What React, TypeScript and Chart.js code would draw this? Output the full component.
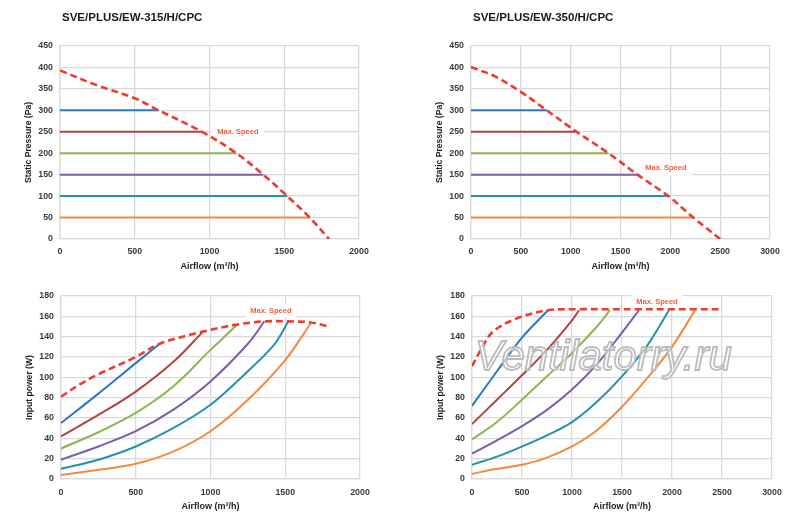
import { useEffect, useRef } from "react";
import { Chart, registerables } from "chart.js";

Chart.register(...registerables);

const FONT = '"Liberation Sans", Arial, sans-serif';

// static pressure of the six speed settings (Pa), top to bottom
const pressureLevels = [300, 250, 200, 150, 100, 50];
const speedColors = ["#2b78c2", "#b2443e", "#8db552", "#7b5ea7", "#2592ab", "#f58a3e"];
const maxColor = "#ee3b30";

// SVE/PLUS/EW-315/H/CPC
const levelEnd315 = [660, 950, 1180, 1360, 1520, 1670];
const maxFlow315 = [0, 250, 500, 660, 950, 1180, 1360, 1520, 1670, 1800];
const maxPressure315 = [393, 358, 328, 300, 250, 200, 150, 100, 50, 0];
const powerFlow315 = [
    [0, 250, 500, 660],
    [0, 250, 500, 750, 950],
    [0, 250, 500, 750, 1000, 1180],
    [0, 250, 500, 750, 1000, 1250, 1360],
    [0, 250, 500, 750, 1000, 1250, 1430, 1520],
    [0, 250, 500, 750, 1000, 1250, 1500, 1670],
];
const powerWatts315 = [
    [55, 84, 114, 133],
    [42, 63, 86, 115, 145],
    [30, 46, 65, 91, 127, 152],
    [19, 32, 47, 68, 96, 133, 155],
    [10, 19, 32, 50, 73, 106, 133, 155],
    [4, 9, 15, 27, 47, 78, 117, 153],
];
const maxPowerFlow315 = [0, 125, 250, 500, 660, 950, 1180, 1360, 1520, 1670, 1790];
const maxPowerWatts315 = [81, 93, 103, 120, 133, 145, 152, 155, 155, 154, 150];

// SVE/PLUS/EW-350/H/CPC
const levelEnd350 = [760, 1060, 1380, 1670, 1980, 2230];
const maxFlow350 = [0, 250, 500, 760, 1060, 1380, 1670, 1980, 2230, 2500];
const maxPressure350 = [401, 378, 343, 300, 250, 200, 150, 100, 50, 0];
const powerFlow350 = [
    [0, 250, 500, 760],
    [0, 250, 500, 750, 1000, 1070],
    [0, 250, 500, 750, 1000, 1250, 1380],
    [0, 250, 500, 750, 1000, 1250, 1500, 1670],
    [0, 250, 500, 750, 1000, 1250, 1500, 1750, 1970],
    [0, 250, 500, 750, 1000, 1250, 1500, 1750, 2000, 2230],
];
const powerWatts350 = [
    [72, 106, 139, 166],
    [54, 78, 102, 127, 156, 166],
    [39, 56, 78, 101, 124, 150, 166],
    [25, 38, 52, 68, 88, 113, 144, 166],
    [14, 22, 32, 43, 56, 76, 101, 131, 166],
    [5, 10, 14, 21, 32, 48, 71, 99, 130, 166],
];
const maxPowerFlow350 = [0, 100, 210, 450, 760, 1070, 1380, 1670, 1970, 2230, 2500];
const maxPowerWatts350 = [111, 129, 145, 158, 166, 167, 167, 167, 167, 167, 167];

type Series = { xs: number[]; ys: number[]; color: string; dashed?: boolean };

type Frame = {
    left: number;
    top: number;
    width: number;
    height: number;
    axisWidth: number;
    axisHeight: number;
    padTop: number;
    padRight: number;
    yTitlePad: number;
    xTitlePad: number;
    xTickPad: number;
};

type FanChartProps = {
    frame: Frame;
    title?: string;
    yTitle: string;
    xMax: number;
    yMax: number;
    yStep: number;
    series: Series[];
    label: { x: number; y: number };
    watermark?: boolean;
};

const pressureSeries = (ends: number[], maxX: number[], maxY: number[]): Series[] => [
    { xs: maxX, ys: maxY, color: maxColor, dashed: true },
    ...ends.map((end, i) => ({
        xs: [0, end],
        ys: [pressureLevels[i], pressureLevels[i]],
        color: speedColors[i],
    })),
];

const powerSeries = (xs: number[][], ys: number[][], maxX: number[], maxY: number[]): Series[] => [
    { xs: maxX, ys: maxY, color: maxColor, dashed: true },
    ...xs.map((flow, i) => ({ xs: flow, ys: ys[i], color: speedColors[i] })),
];

const FanChart = ({ frame, title, yTitle, xMax, yMax, yStep, series, label, watermark }: FanChartProps) => {
    const canvasRef = useRef<HTMLCanvasElement | null>(null);

    useEffect(() => {
        if (!canvasRef.current) return;

        const datasets = series.map((s) => ({
            data: s.xs.map((x, i) => ({ x, y: s.ys[i] })),
            borderColor: s.color,
            borderWidth: s.dashed ? 2.6 : 2,
            borderDash: s.dashed ? [7, 4] : [],
            pointRadius: 0,
            fill: false,
            tension: 0.35,
        }));

        // chart heading above the plot
        const headerPlugin = {
            id: "headerPlugin",
            afterDraw(chart: any) {
                if (!title) return;
                const { ctx, chartArea } = chart;
                ctx.save();
                ctx.font = `bold 11.5px ${FONT}`;
                ctx.fillStyle = "#1a1a1a";
                ctx.textBaseline = "middle";
                ctx.fillText(title, chartArea.left + 2, 18);
                ctx.restore();
            },
        };

        // "Max. Speed" tag on a white box
        const speedLabelPlugin = {
            id: "speedLabelPlugin",
            beforeDatasetsDraw(chart: any) {
                const { ctx, scales } = chart;
                const px = scales.x.getPixelForValue(label.x);
                const py = scales.y.getPixelForValue(label.y);
                ctx.save();
                ctx.font = `bold 7.5px ${FONT}`;
                const w = ctx.measureText("Max. Speed").width + 10;
                ctx.fillStyle = "#ffffff";
                ctx.fillRect(px - w / 2, py - 7, w, 14);
                ctx.fillStyle = "#f0603f";
                ctx.textAlign = "center";
                ctx.textBaseline = "middle";
                ctx.fillText("Max. Speed", px, py);
                ctx.restore();
            },
        };

        const watermarkPlugin = {
            id: "watermarkPlugin",
            afterDatasetsDraw(chart: any) {
                if (!watermark) return;
                const { ctx } = chart;
                ctx.save();
                ctx.font = `italic 42px ${FONT}`;
                ctx.fillStyle = "rgba(255,255,255,0.55)";
                ctx.strokeStyle = "#bcbcbc";
                ctx.lineWidth = 1.8;
                ctx.fillText("Ventilatorry.ru", 75, 90);
                ctx.strokeText("Ventilatorry.ru", 75, 90);
                ctx.restore();
            },
        };

        const gridColor = "#d9d9d9";
        const tickFont = { family: FONT, size: 8.8, weight: "bold" };

        const chart = new Chart(canvasRef.current, {
            type: "line",
            data: { datasets } as any,
            options: {
                animation: false,
                responsive: true,
                maintainAspectRatio: false,
                layout: { padding: { top: frame.padTop, right: frame.padRight, left: 0, bottom: 0 } },
                plugins: { legend: { display: false }, tooltip: { enabled: false } },
                scales: {
                    x: {
                        type: "linear",
                        min: 0,
                        max: xMax,
                        afterFit: (axis: any) => { axis.height = frame.axisHeight; },
                        ticks: {
                            stepSize: 500,
                            autoSkip: false,
                            maxRotation: 0,
                            padding: frame.xTickPad,
                            color: "#3a3a3a",
                            font: tickFont,
                            callback: (v: any) => String(v),
                        },
                        grid: { color: gridColor, lineWidth: 1.3, drawTicks: false },
                        border: { color: gridColor, width: 1.3 },
                        title: {
                            display: true,
                            text: "Airflow (m³/h)",
                            color: "#1f1f1f",
                            padding: { top: 0, bottom: frame.xTitlePad },
                            font: { family: FONT, size: 9, weight: "bold" },
                        },
                    },
                    y: {
                        type: "linear",
                        min: 0,
                        max: yMax,
                        afterFit: (axis: any) => { axis.width = frame.axisWidth; },
                        ticks: {
                            stepSize: yStep,
                            autoSkip: false,
                            padding: 7,
                            color: "#3a3a3a",
                            font: tickFont,
                            callback: (v: any) => String(v),
                        },
                        grid: { color: gridColor, lineWidth: 1.3, drawTicks: false },
                        border: { color: gridColor, width: 1.3 },
                        title: {
                            display: true,
                            text: yTitle,
                            color: "#1f1f1f",
                            padding: { top: frame.yTitlePad, bottom: 0 },
                            font: { family: FONT, size: 8.6, weight: "bold" },
                        },
                    },
                },
            } as any,
            plugins: [headerPlugin, speedLabelPlugin, watermarkPlugin],
        });

        return () => chart.destroy();
    }, [frame, title, yTitle, xMax, yMax, yStep, series, label, watermark]);

    return (
        <div
            style={{
                position: "absolute",
                left: frame.left,
                top: frame.top,
                width: frame.width,
                height: frame.height,
            }}
        >
            <canvas ref={canvasRef} />
        </div>
    );
};

const topLeft: Frame = { left: 0, top: 0, width: 400, height: 280, axisWidth: 60, axisHeight: 41, padTop: 46, padRight: 41, yTitlePad: 23.5, xTitlePad: 8, xTickPad: 7 };
const topRight: Frame = { left: 400, top: 0, width: 400, height: 280, axisWidth: 71, axisHeight: 41, padTop: 46, padRight: 30, yTitlePad: 34, xTitlePad: 8, xTickPad: 7 };
const bottomLeft: Frame = { left: 0, top: 280, width: 400, height: 244, axisWidth: 61, axisHeight: 45, padTop: 16, padRight: 40, yTitlePad: 24, xTitlePad: 12, xTickPad: 8 };
const bottomRight: Frame = { left: 400, top: 280, width: 400, height: 244, axisWidth: 72, axisHeight: 45, padTop: 16, padRight: 28, yTitlePad: 35.5, xTitlePad: 12, xTickPad: 8 };

const pressure315 = pressureSeries(levelEnd315, maxFlow315, maxPressure315);
const pressure350 = pressureSeries(levelEnd350, maxFlow350, maxPressure350);
const power315 = powerSeries(powerFlow315, powerWatts315, maxPowerFlow315, maxPowerWatts315);
const power350 = powerSeries(powerFlow350, powerWatts350, maxPowerFlow350, maxPowerWatts350);

const label315P = { x: 1190, y: 250 };
const label350P = { x: 1955, y: 165 };
const label315W = { x: 1404, y: 165.5 };
const label350W = { x: 1850, y: 174 };

export default function App() {
    return (
        <div style={{ position: "absolute", left: 0, top: 0, width: 800, height: 524, background: "#fff" }}>
            <FanChart frame={topLeft} title="SVE/PLUS/EW-315/H/CPC" yTitle="Static Pressure (Pa)"
                xMax={2000} yMax={450} yStep={50} series={pressure315} label={label315P} />
            <FanChart frame={topRight} title="SVE/PLUS/EW-350/H/CPC" yTitle="Static Pressure (Pa)"
                xMax={3000} yMax={450} yStep={50} series={pressure350} label={label350P} />
            <FanChart frame={bottomLeft} yTitle="Input power (W)"
                xMax={2000} yMax={180} yStep={20} series={power315} label={label315W} />
            <FanChart frame={bottomRight} yTitle="Input power (W)"
                xMax={3000} yMax={180} yStep={20} series={power350} label={label350W} watermark />
        </div>
    );
}
